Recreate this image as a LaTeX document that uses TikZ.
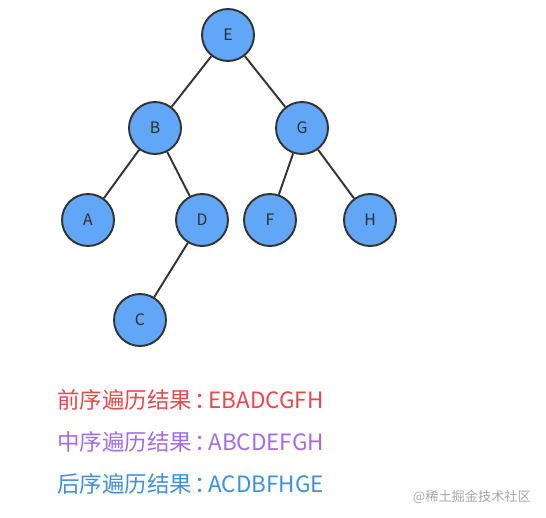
\documentclass[tikz,border=0pt]{standalone}
\usepackage{fontspec}
\setmainfont{Noto Sans CJK SC}
\usepackage{tikz}
\definecolor{nodeblue}{HTML}{62A6F7}
\definecolor{edgegray}{HTML}{333333}
\definecolor{preRed}{HTML}{E5484D}
\definecolor{inPurple}{HTML}{A36CE6}
\definecolor{postBlue}{HTML}{3F8FDD}
\newcommand{\sepcolon}{\hspace{0.12em}：\hspace{-0.4em}}

\begin{document}
\begin{tikzpicture}[x=0.02cm, y=-0.02cm,
  every node/.style={font=\small},
  vertex/.style={circle, draw=edgegray, line width=1.1pt, fill=nodeblue,
    minimum size=1.04cm, inner sep=0pt, font=\fontsize{9}{10}\selectfont, text=edgegray!90!black},
  result/.style={anchor=west, font=\fontsize{12.8}{14}\selectfont}]
  \useasboundingbox (0,0) rectangle (546,517);
  \node[vertex] (E) at (228,35) {E};
  \node[vertex] (B) at (155,128) {B};
  \node[vertex] (G) at (302,128) {G};
  \node[vertex] (A) at (88,220) {A};
  \node[vertex] (D) at (202,220) {D};
  \node[vertex] (F) at (270,220) {F};
  \node[vertex] (H) at (370,220) {H};
  \node[vertex] (C) at (140,320) {C};
  \begin{scope}[draw=edgegray, line width=1.1pt]
    \draw (E) -- (B);
    \draw (E) -- (G);
    \draw (B) -- (A);
    \draw (B) -- (D);
    \draw (D) -- (C);
    \draw (G) -- (F);
    \draw (G) -- (H);
  \end{scope}
  \node[result, text=preRed]   (pre)  at (51,400) {前序遍历结果\sepcolon EBADCGFH};
  \node[result, text=inPurple] (in)   at (51,442) {中序遍历结果\sepcolon ABCDEFGH};
  \node[result, text=postBlue] (post) at (51,484) {后序遍历结果\sepcolon ACDBFHGE};
  \node[anchor=east, text=black!35, font=\fontsize{7.5}{9}\selectfont] (mark) at (537,497) {@稀土掘金技术社区};
\end{tikzpicture}
\end{document}
